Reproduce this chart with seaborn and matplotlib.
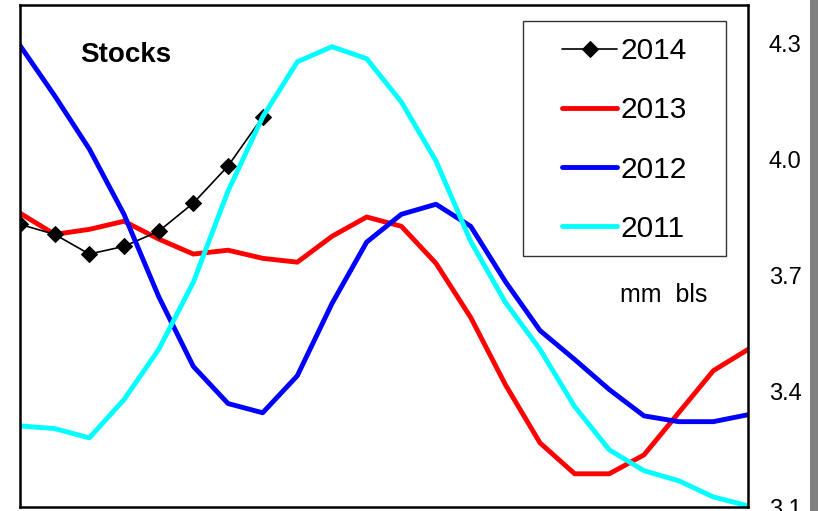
import matplotlib
matplotlib.use('Agg')
import numpy as np
import pandas as pd
import matplotlib.pyplot as plt
import seaborn as sns
from matplotlib.patches import Rectangle

# Weekly stocks, mm bls
weeks = list(range(22))
stocks_2014 = [3.832, 3.806, 3.755, 3.775, 3.814, 3.887, 3.983, 4.110]
stocks_2013 = [3.861, 3.806, 3.819, 3.840, 3.794, 3.755, 3.765, 3.744, 3.734, 3.801, 3.851,
               3.827, 3.731, 3.591, 3.417, 3.266, 3.186, 3.186, 3.235, 3.344, 3.453, 3.508]
stocks_2012 = [4.295, 4.165, 4.027, 3.858, 3.645, 3.464, 3.368, 3.344, 3.440, 3.627, 3.786,
               3.858, 3.884, 3.827, 3.684, 3.557, 3.482, 3.404, 3.336, 3.321, 3.321, 3.339]
stocks_2011 = [3.310, 3.303, 3.279, 3.378, 3.508, 3.682, 3.918, 4.110, 4.253, 4.292, 4.261,
               4.149, 3.996, 3.788, 3.630, 3.508, 3.360, 3.248, 3.194, 3.168, 3.126, 3.103]
y_ticks = [3.1, 3.4, 3.7, 4.0, 4.3]
legend_order = ['2014', '2013', '2012', '2011']

sns.set_style('white')
plt.rcParams['font.family'] = ['Liberation Sans', 'DejaVu Sans']
plt.rcParams['text.color'] = 'black'

fig = plt.figure(figsize=(8.18, 5.11), dpi=100)
ax = fig.add_axes([20/818, 4/511, 728/818, 502/511])

# draw order: red under black, blue, cyan on top
sns.lineplot(x=weeks, y=stocks_2013, color='#FF0000', linewidth=3.5, label='2013', ax=ax)
sns.lineplot(x=weeks[:len(stocks_2014)], y=stocks_2014, color='black', linewidth=1.2,
             marker='D', markersize=8, markeredgecolor='black', label='2014', ax=ax)
sns.lineplot(x=weeks, y=stocks_2012, color='#0000FF', linewidth=3.5, label='2012', ax=ax)
sns.lineplot(x=weeks, y=stocks_2011, color='#00FFFF', linewidth=3.5, label='2011', ax=ax)

ax.set_xlim(0, 21)
ax.set_ylim(3.1, 4.4)
ax.set_xticks([])
ax.yaxis.tick_right()
ax.set_yticks(y_ticks)
ax.set_yticklabels([f'{t:.1f}' for t in y_ticks])
ax.tick_params(axis='y', length=0, pad=15, labelsize=17, labelcolor='black')
ax.set_xlabel('')
ax.set_ylabel('')
for s in ax.spines.values():
    s.set_visible(True)
    s.set_color('black')
    s.set_linewidth(1.8)

# legend box drawn separately, entries placed inside it
ax.add_patch(Rectangle((523/818, (511-256)/511), 203/818, 235/511, transform=fig.transFigure,
                       facecolor='white', edgecolor='#333333', linewidth=1.0, zorder=5))
handles, labels = ax.get_legend_handles_labels()
hmap = dict(zip(labels, handles))
leg = ax.legend([hmap[l] for l in legend_order], legend_order, loc='center left',
                bbox_to_anchor=(547/818, 1 - 140/511), bbox_transform=fig.transFigure,
                frameon=False, fontsize=21.5, handlelength=1.85, handletextpad=0.1,
                labelspacing=1.04, borderpad=0)
leg.set_zorder(6)
for t in leg.get_texts():
    t.set_color('black')

fig.text(126/818, 1 - 55/511, 'Stocks', fontsize=20, fontweight='bold', ha='center', va='center')
fig.text(664/818, 1 - 295/511, 'mm  bls', fontsize=18, ha='center', va='center')

# grey strip on the right edge
fig.patches.append(Rectangle((810/818, 0), 8/818, 1, transform=fig.transFigure,
                             facecolor='#808080', edgecolor='none'))

fig.savefig('out.png', dpi=100)
